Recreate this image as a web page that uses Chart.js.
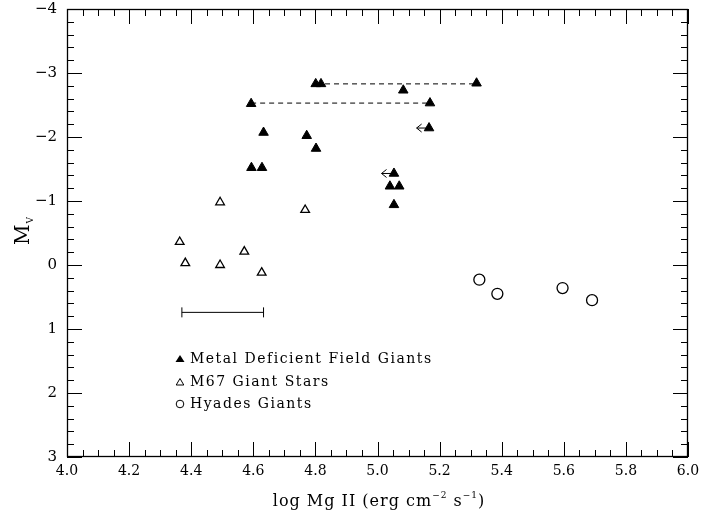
<!DOCTYPE html>
<html>
<head>
<meta charset="utf-8">
<script src="https://cdn.jsdelivr.net/npm/chart.js@4.4.1/dist/chart.umd.min.js"></script>
<style>
html, body { margin: 0; padding: 0; background: #fff; }
</style>
</head>
<body>
<canvas id="mgii-chart" width="711" height="514"></canvas>
<script>
// Metal deficient field giants (filled triangles)
const metalX = [4.593, 5.169, 4.801, 4.818, 5.319, 5.083, 5.166, 4.633, 4.772, 4.802, 4.594, 4.628, 5.053, 5.040, 5.070, 5.053];
const metalY = [-2.52, -2.53, -2.83, -2.83, -2.84, -2.73, -2.14, -2.07, -2.02, -1.82, -1.52, -1.52, -1.43, -1.23, -1.23, -0.94];

// M67 giant stars (open triangles)
const m67X = [4.493, 4.767, 4.363, 4.571, 4.381, 4.493, 4.627];
const m67Y = [-0.98, -0.86, -0.36, -0.21, -0.03, 0.0, 0.12];

// Hyades giants (open circles)
const hyadesX = [5.328, 5.386, 5.596, 5.691];
const hyadesY = [0.23, 0.45, 0.36, 0.55];

// dashed links between two measurements of the same star
const linkFromX = [4.593, 4.831];
const linkToX = [5.169, 5.319];
const linkY = [-2.53, -2.83];

// upper limits (arrows pointing to lower flux)
const limitFromX = [5.166, 5.053];
const limitToX = [5.126, 5.013];
const limitY = [-2.14, -1.43];

// typical error bar
const errorX = [4.370, 4.633];
const errorY = 0.74;

const xTicks = [4.0, 4.2, 4.4, 4.6, 4.8, 5.0, 5.2, 5.4, 5.6, 5.8, 6.0];
const yTicks = [-4, -3, -2, -1, 0, 1, 2, 3];

const legendLabels = ['Metal Deficient Field Giants', 'M67 Giant Stars', 'Hyades Giants'];

const serif = '"DejaVu Serif", serif';

function pts(xs, ys) {
    return xs.map((x, i) => ({ x: x, y: ys[i] }));
}

const datasets = [];

linkY.forEach((y, i) => {
    datasets.push({
        data: [{ x: linkFromX[i], y: y }, { x: linkToX[i], y: y }],
        showLine: true,
        borderColor: '#000',
        borderWidth: 1,
        borderDash: [5, 4],
        pointRadius: 0
    });
});

limitY.forEach((y, i) => {
    datasets.push({
        data: [{ x: limitToX[i], y: y }, { x: limitFromX[i], y: y }],
        showLine: true,
        borderColor: '#000',
        borderWidth: 1,
        pointRadius: 0,
        isLimit: true
    });
});

datasets.push({
    data: [{ x: errorX[0], y: errorY }, { x: errorX[1], y: errorY }],
    showLine: true,
    borderColor: '#000',
    borderWidth: 1,
    pointStyle: 'line',
    rotation: 90,
    pointRadius: 5,
    pointBorderWidth: 1,
    pointBorderColor: '#000'
});

datasets.push({
    label: legendLabels[0],
    data: pts(metalX, metalY),
    pointStyle: 'triangle',
    pointRadius: 5.5,
    backgroundColor: '#000',
    borderColor: '#000',
    borderWidth: 1
});
datasets.push({
    label: legendLabels[1],
    data: pts(m67X, m67Y),
    pointStyle: 'triangle',
    pointRadius: 5,
    backgroundColor: '#fff',
    borderColor: '#000',
    borderWidth: 1.3
});
datasets.push({
    label: legendLabels[2],
    data: pts(hyadesX, hyadesY),
    pointStyle: 'circle',
    pointRadius: 5.5,
    backgroundColor: 'rgba(0,0,0,0)',
    borderColor: '#000',
    borderWidth: 1.3
});

// frame, inward ticks, axis titles, legend and arrow heads
const decorations = {
    id: 'decorations',
    afterDatasetsDraw(chart) {
        const ctx = chart.ctx;
        const a = chart.chartArea;
        const xs = chart.scales.x;
        const ys = chart.scales.y;
        ctx.save();
        ctx.strokeStyle = '#000';
        ctx.fillStyle = '#000';
        ctx.lineWidth = 1;

        // arrow heads of the upper limits
        chart.data.datasets.forEach((ds) => {
            if (!ds.isLimit) return;
            const px = xs.getPixelForValue(ds.data[0].x);
            const py = ys.getPixelForValue(ds.data[0].y);
            ctx.beginPath();
            ctx.moveTo(px + 5, py - 4);
            ctx.lineTo(px, py);
            ctx.lineTo(px + 5, py + 4);
            ctx.stroke();
        });

        // frame
        ctx.lineWidth = 1.3;
        ctx.strokeRect(a.left + 0.5, a.top + 0.5, a.right - a.left - 1, a.bottom - a.top - 1);
        ctx.lineWidth = 1;

        // x ticks, every 0.05, major every 0.2
        for (let i = 0; i <= 40; i++) {
            const px = Math.round(xs.getPixelForValue(4 + i * 0.05)) + 0.5;
            const len = i % 4 === 0 ? 15 : 7;
            ctx.beginPath();
            ctx.moveTo(px, a.bottom);
            ctx.lineTo(px, a.bottom - len);
            ctx.moveTo(px, a.top);
            ctx.lineTo(px, a.top + len);
            ctx.stroke();
        }
        // y ticks, every 0.2, major every 1
        for (let i = 0; i <= 35; i++) {
            const py = Math.round(ys.getPixelForValue(-4 + i * 0.2)) + 0.5;
            const len = i % 5 === 0 ? 15 : 7;
            ctx.beginPath();
            ctx.moveTo(a.left, py);
            ctx.lineTo(a.left + len, py);
            ctx.moveTo(a.right, py);
            ctx.lineTo(a.right - len, py);
            ctx.stroke();
        }

        // x axis title with superscripts
        const parts = [
            ['log Mg II (erg cm', 16, 0],
            ['\u22122', 9, -8],
            [' s', 16, 0],
            ['\u22121', 9, -8],
            [')', 16, 0]
        ];
        ctx.letterSpacing = '1px';
        let total = 0;
        parts.forEach(p => { ctx.font = p[1] + 'px ' + serif; total += ctx.measureText(p[0]).width; });
        let tx = 379 - total / 2;
        ctx.textBaseline = 'alphabetic';
        ctx.textAlign = 'left';
        parts.forEach(p => {
            ctx.font = p[1] + 'px ' + serif;
            ctx.fillText(p[0], tx, 506 + p[2]);
            tx += ctx.measureText(p[0]).width;
        });
        ctx.letterSpacing = '0px';

        // y axis title M_V, rotated
        ctx.save();
        ctx.translate(29, 245);
        ctx.rotate(-Math.PI / 2);
        ctx.font = '20px ' + serif;
        ctx.textAlign = 'left';
        ctx.fillText('M', 0, 0);
        const mw = ctx.measureText('M').width;
        ctx.font = '9px ' + serif;
        ctx.fillText('V', mw + 1, 4);
        ctx.restore();

        // legend inside the plot
        const lx = 180;
        const rows = [363, 385.5, 408];
        ctx.font = '14px ' + serif;
        ctx.letterSpacing = '1.5px';
        ctx.textBaseline = 'alphabetic';
        legendLabels.forEach((label, i) => {
            const y = rows[i];
            ctx.beginPath();
            if (i === 0) {
                ctx.moveTo(lx, y - 8);
                ctx.lineTo(lx + 4.5, y - 1);
                ctx.lineTo(lx - 4.5, y - 1);
                ctx.closePath();
                ctx.fill();
            } else if (i === 1) {
                ctx.moveTo(lx, y - 7);
                ctx.lineTo(lx + 3.8, y - 0.5);
                ctx.lineTo(lx - 3.8, y - 0.5);
                ctx.closePath();
                ctx.stroke();
            } else {
                ctx.arc(lx, y - 4, 3.8, 0, Math.PI * 2);
                ctx.stroke();
            }
            ctx.fillText(label, 190, y);
        });
        ctx.letterSpacing = '0px';
        ctx.restore();
    }
};

function noPadding(s) {
    s.paddingTop = 0;
    s.paddingBottom = 0;
    s.paddingLeft = 0;
    s.paddingRight = 0;
}

const ctx = document.getElementById('mgii-chart').getContext('2d');
const mgiiChart = new Chart(ctx, {
    type: 'scatter',
    data: { datasets: datasets },
    options: {
        responsive: false,
        animation: false,
        devicePixelRatio: 1,
        layout: {
            padding: { top: 9, right: 23, left: 0, bottom: 0 }
        },
        plugins: {
            legend: { display: false },
            tooltip: { enabled: false }
        },
        scales: {
            x: {
                type: 'linear',
                min: 4.0,
                max: 6.0,
                grid: { display: false, drawTicks: false },
                border: { display: false },
                afterBuildTicks: (s) => { s.ticks = xTicks.map(v => ({ value: v })); },
                afterFit: (s) => { s.height = 57; noPadding(s); },
                ticks: {
                    color: '#000',
                    padding: 6,
                    maxRotation: 0,
                    autoSkip: false,
                    font: { family: serif, size: 14 },
                    callback: (v) => Number(v).toFixed(1)
                }
            },
            y: {
                type: 'linear',
                min: -4,
                max: 3,
                reverse: true,
                grid: { display: false, drawTicks: false },
                border: { display: false },
                afterBuildTicks: (s) => { s.ticks = yTicks.map(v => ({ value: v })); },
                afterFit: (s) => { s.width = 67; noPadding(s); },
                ticks: {
                    color: '#000',
                    padding: 10,
                    autoSkip: false,
                    font: { family: serif, size: 15 },
                    callback: (v) => v < 0 ? '\u2212' + Math.abs(v) : String(v)
                }
            }
        }
    },
    plugins: [decorations]
});
</script>
</body>
</html>
